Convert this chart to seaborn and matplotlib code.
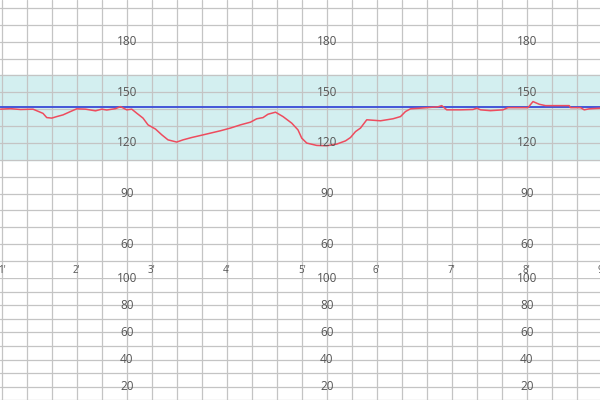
import matplotlib
matplotlib.use("Agg")
import matplotlib.pyplot as plt
import seaborn as sns
import pandas as pd
import numpy as np

# ---- data ----
time_s = [59, 67, 75, 85, 93, 96, 100, 104, 109, 115, 120, 127, 135, 140, 144, 151,
          155, 160, 164, 168, 173, 177, 183, 188, 193, 200, 205, 212, 219, 227, 235,
          243, 251, 259, 264, 269, 273, 279, 285, 292, 297, 300, 304, 312, 320, 328,
          335, 339, 343, 347, 352, 363, 373, 379, 383, 387, 395, 409, 412, 416, 427,
          437, 440, 443, 451, 461, 465, 481, 485, 490, 495, 514, 515, 523, 526, 530, 539]
fhr_bpm = [140, 140.3, 139.8, 140, 137.5, 135, 134.7, 135.6, 136.6, 138.6, 140.2, 140,
           139, 140, 139.5, 140.3, 141.5, 139.6, 140, 137.6, 134.7, 130.7, 128.2, 124.8,
           121.8, 120.5, 121.8, 123.2, 124.4, 125.8, 127.2, 128.8, 130.7, 132.3, 134.3,
           135, 137, 138.2, 135.6, 131.7, 127.7, 122.8, 119.9, 118.5, 118.3, 119.3, 121.2,
           123.2, 126.7, 128.8, 133.7, 133.1, 134.3, 135.6, 138.6, 140.2, 140.6, 141.4,
           142.1, 139.6, 139.6, 139.8, 140.6, 139.6, 139.1, 139.6, 140.9, 140.9, 144.5,
           142.9, 142.1, 142.1, 140.9, 140.9, 139.6, 140.2, 140.6]
baseline_bpm = 141
normal_low, normal_high = 110, 160
minute_labels = ["1'", "2'", "3'", "4'", "5'", "6'", "7'", "8'", "9'"]
fhr_tick_labels = [60, 90, 120, 150, 180]
toco_tick_labels = [20, 40, 60, 80, 100]
label_columns_s = [160, 320, 480]

df = pd.DataFrame({"t": time_s, "fhr": fhr_bpm})

sns.set_style("white")
plt.rcParams["font.family"] = ["Open Sans", "DejaVu Sans"]

GRID = "#c4c4c4"
TXT = "#555555"
XLIM = (58.6, 538.6)

fig = plt.figure(figsize=(6, 4), dpi=100)

# top FHR panel
ax1 = fig.add_axes([0, 0.3475, 1, 0.6525])
# middle strip with minute labels
axm = fig.add_axes([0, 0.305, 1, 0.0425])
# bottom toco panel
ax2 = fig.add_axes([0, 0, 1, 0.305])

grid_x = np.arange(60, 560, 20)

for ax in (ax1, axm, ax2):
    ax.set_xlim(*XLIM)
    for s in ax.spines.values():
        s.set_visible(False)
    ax.set_xticks([])
    ax.set_yticks([])
    for gx in grid_x:
        ax.axvline(gx, color=GRID, lw=0.9, zorder=1)

# top panel
ax1.set_ylim(50, 204.7)
ax1.axhspan(normal_low, normal_high, color="#d3eff0", zorder=0)
for gy in range(50, 210, 10):
    ax1.axhline(gy, color=GRID, lw=0.9, zorder=1)
ax1.axhline(baseline_bpm, color="#4455d8", lw=1.4, zorder=3)
sns.lineplot(data=df, x="t", y="fhr", ax=ax1, color="#ee4c5e", lw=1.1, zorder=4,
             sort=False)
ax1.set_xlabel("")
ax1.set_ylabel("")
for cx in label_columns_s:
    for v in fhr_tick_labels:
        ax1.text(cx, v, str(v), ha="center", va="center", fontsize=8.5,
                 color=TXT, zorder=5)

# middle strip
axm.set_ylim(0, 1)
axm.axhline(1, color=GRID, lw=0.9)
for i, lab in enumerate(minute_labels):
    axm.text(60 + 60 * i, 0.45, lab, ha="center", va="center", fontsize=7,
             color=TXT, zorder=5)

# bottom panel
ax2.set_ylim(10.2, 100)
for gy in range(10, 101, 10):
    ax2.axhline(gy, color=GRID, lw=0.9, zorder=1)
for cx in label_columns_s:
    for v in toco_tick_labels:
        ax2.text(cx, v, str(v), ha="center", va="center", fontsize=8.5,
                 color=TXT, zorder=5, clip_on=False)

fig.savefig("out.png", dpi=100)
